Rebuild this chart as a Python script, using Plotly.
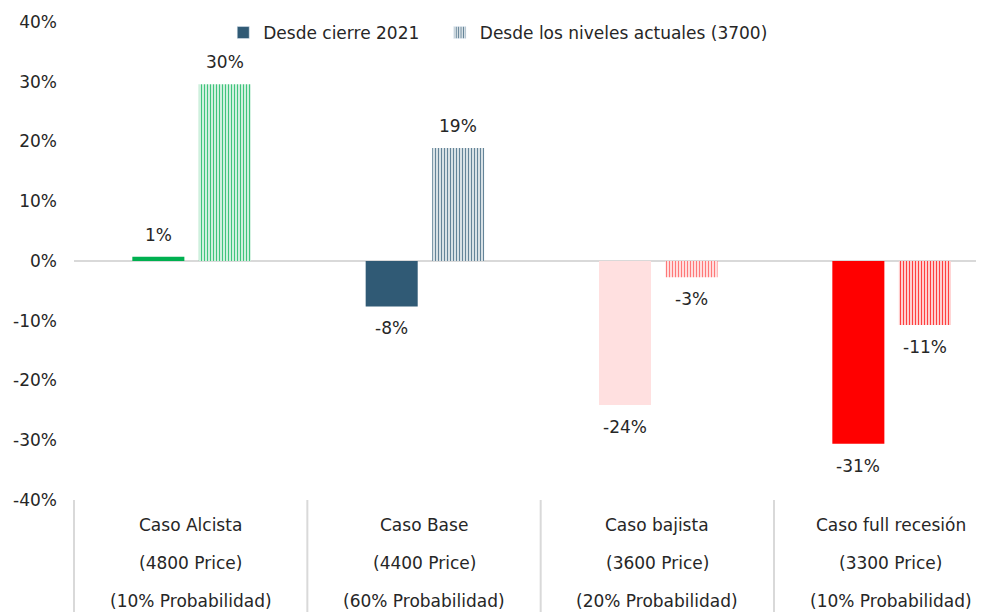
import plotly.graph_objects as go

# escenarios
casos = ["Caso Alcista", "Caso Base", "Caso bajista", "Caso full recesión"]
precios = ["(4800 Price)", "(4400 Price)", "(3600 Price)", "(3300 Price)"]
probs = ["(10% Probabilidad)", "(60% Probabilidad)", "(20% Probabilidad)", "(10% Probabilidad)"]

desde_cierre = [0.7, -7.6, -24.1, -30.6]
desde_actual = [29.6, 18.9, -2.7, -10.7]

colores = ["#00B050", "#305A75", "#FFE0E0", "#FF0000"]
patron_colores = ["#00B050", "#305A75", "#FF4A4A", "#FF0000"]

serie1 = "Desde cierre 2021"
serie2 = "Desde los niveles actuales (3700)"

yticks = [-40, -30, -20, -10, 0, 10, 20, 30, 40]

FONT = "DejaVu Sans"
FS = 17
TXT = "#262626"

x = list(range(len(casos)))
W = 0.223
XMAX = 3.4

fig = go.Figure()

fig.add_trace(go.Bar(
    x=x, y=desde_cierre, width=W, offset=-0.25,
    marker=dict(color=colores, line=dict(width=0)),
    showlegend=False,
))
patron = dict(shape="|", fgcolor=patron_colores, bgcolor="white",
              size=3, solidity=0.5, fgopacity=0.75, fillmode="overlay")
fig.add_trace(go.Bar(
    x=x, y=desde_actual, width=W, offset=0.035,
    marker=dict(color="white", line=dict(width=0), pattern=patron),
    showlegend=False,
))

# legend entries (two legends so each can be placed)
fig.add_trace(go.Bar(x=[None], y=[None], name=serie1, legend="legend",
                     marker=dict(color="#305A75")))
fig.add_trace(go.Bar(x=[None], y=[None], name=serie2, legend="legend2",
                     marker=dict(color="white", pattern=dict(shape="|", fgcolor="#305A75",
                                                              bgcolor="white", size=3,
                                                              solidity=0.5, fgopacity=0.8))))

# value labels
for serie, off in [(desde_cierre, -0.1385), (desde_actual, 0.1465)]:
    for i, v in enumerate(serie):
        fig.add_annotation(
            x=i + off, y=v, text=f"{round(v):d}%", showarrow=False,
            yshift=22 if v >= 0 else -22,
            font=dict(family=FONT, size=FS, color=TXT),
        )

# category labels (three rows) and dividers
for i in range(len(casos)):
    for row, txt in enumerate([casos[i], precios[i], probs[i]]):
        fig.add_annotation(
            x=i, y=0, yref="paper", text=txt, showarrow=False,
            yshift=-25 - 38 * row, yanchor="middle",
            font=dict(family=FONT, size=FS, color=TXT),
        )
for b in [-0.5, 0.5, 1.5, 2.5]:
    px = (b + 0.5) / (XMAX + 0.5)
    fig.add_shape(type="line", x0=px, x1=px, y0=0, y1=-0.25, xref="paper", yref="paper",
                  line=dict(color="#D9D9D9", width=2))

leg = dict(orientation="h", y=0.977, xanchor="left", yanchor="middle",
           font=dict(family=FONT, size=FS, color=TXT), itemwidth=30,
           bgcolor="rgba(0,0,0,0)")

# page body adds 8px margin, so figure is 976x604
fig.update_layout(
    width=976, height=604,
    margin=dict(l=66, r=0, t=14, b=112),
    plot_bgcolor="white", paper_bgcolor="white",
    font=dict(family=FONT, size=FS, color=TXT),
    barmode="overlay",
    showlegend=True,
    legend=dict(leg, x=0.164),
    legend2=dict(leg, x=0.402),
    xaxis=dict(range=[-0.5, XMAX], showticklabels=False, showgrid=False,
               zeroline=False, showline=False, fixedrange=True, automargin=False),
    yaxis=dict(range=[-40, 40], tickvals=yticks, ticktext=[f"{t}%" for t in yticks],
               showgrid=False, zeroline=True, zerolinecolor="#D9D9D9", zerolinewidth=2,
               showline=False, ticks="", ticklabelstandoff=16, automargin=False,
               tickfont=dict(family=FONT, size=FS, color=TXT)),
)

fig.write_html("out.html")
